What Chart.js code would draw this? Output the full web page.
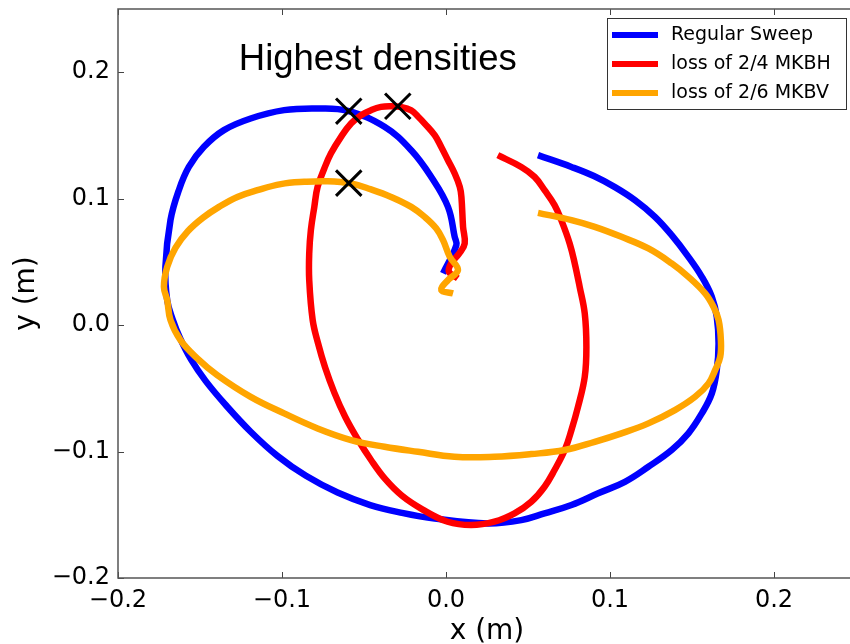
<!DOCTYPE html>
<html>
<head>
<meta charset="utf-8">
<script src="https://cdn.jsdelivr.net/npm/chart.js@4.4.1/dist/chart.umd.min.js"></script>
<style>
  html, body { margin: 0; padding: 0; overflow: hidden; background: #fff; }
  #wrap { width: 860px; height: 644px; }
</style>
</head>
<body>
<div id="wrap"><canvas id="c" width="860" height="644"></canvas></div>
<script>
// ---- data ----
const seriesLabels = ['Regular Sweep', 'loss of 2/4 MKBH', 'loss of 2/6 MKBV'];
const seriesColors = ['#0000ff', '#ff0000', '#ffa500'];

const blueX = [0.0561, 0.0765, 0.0902, 0.1030, 0.1152, 0.1274, 0.1376, 0.1478, 0.1560, 0.1621, 0.1651, 0.1662, 0.1651, 0.1621, 0.1560, 0.1478, 0.1376, 0.1234, 0.1091, 0.0928, 0.0765, 0.0601, 0.0459, 0.0255, -0.0069, -0.0268, -0.0462, -0.0661, -0.0854, -0.1028, -0.1191, -0.1343, -0.1466, -0.1555, -0.1621, -0.1667, -0.1700, -0.1711, -0.1680, -0.1629, -0.1568, -0.1476, -0.1354, -0.1191, -0.0987, -0.0783, -0.0599, -0.0375, -0.0212, -0.0090, 0.0012, 0.0053, 0.0063, -0.0018];
const blueY = [0.1344, 0.1251, 0.1179, 0.1091, 0.0988, 0.0856, 0.0711, 0.0540, 0.0382, 0.0224, 0.0066, -0.0145, -0.0356, -0.0540, -0.0698, -0.0856, -0.0988, -0.1120, -0.1239, -0.1330, -0.1423, -0.1489, -0.1542, -0.1568, -0.1530, -0.1485, -0.1423, -0.1324, -0.1192, -0.1034, -0.0843, -0.0632, -0.0441, -0.0271, -0.0105, 0.0046, 0.0198, 0.0461, 0.0830, 0.1067, 0.1251, 0.1410, 0.1542, 0.1634, 0.1700, 0.1713, 0.1694, 0.1568, 0.1383, 0.1172, 0.0935, 0.0698, 0.0632, 0.0409];

const redX = [0.0316, 0.0459, 0.0540, 0.0601, 0.0662, 0.0703, 0.0754, 0.0785, 0.0815, 0.0846, 0.0856, 0.0846, 0.0805, 0.0765, 0.0724, 0.0662, 0.0601, 0.0520, 0.0418, 0.0295, 0.0153, 0.0010, -0.0142, -0.0268, -0.0370, -0.0457, -0.0538, -0.0615, -0.0681, -0.0737, -0.0780, -0.0813, -0.0834, -0.0834, -0.0824, -0.0803, -0.0783, -0.0742, -0.0702, -0.0640, -0.0579, -0.0518, -0.0457, -0.0396, -0.0335, -0.0273, -0.0212, -0.0171, -0.0130, -0.0069, -0.0029, 0.0012, 0.0053, 0.0084, 0.0094, 0.0104, 0.0114, 0.0081, 0.0031, 0.0018, 0.0072];
const redY = [0.1344, 0.1251, 0.1172, 0.1067, 0.0949, 0.0830, 0.0646, 0.0488, 0.0303, 0.0092, -0.0172, -0.0409, -0.0646, -0.0830, -0.0988, -0.1146, -0.1278, -0.1397, -0.1489, -0.1555, -0.1581, -0.1555, -0.1459, -0.1350, -0.1219, -0.1067, -0.0903, -0.0725, -0.0534, -0.0336, -0.0145, 0.0040, 0.0356, 0.0567, 0.0751, 0.0935, 0.1093, 0.1239, 0.1357, 0.1489, 0.1594, 0.1660, 0.1700, 0.1726, 0.1731, 0.1724, 0.1698, 0.1650, 0.1594, 0.1502, 0.1409, 0.1304, 0.1199, 0.1093, 0.1014, 0.0777, 0.0646, 0.0567, 0.0488, 0.0421, 0.0369];

const orangeX = [0.0561, 0.0765, 0.0907, 0.1070, 0.1234, 0.1376, 0.1478, 0.1580, 0.1631, 0.1662, 0.1676, 0.1672, 0.1641, 0.1601, 0.1519, 0.1396, 0.1234, 0.1070, 0.0907, 0.0724, 0.0520, 0.0295, 0.0051, -0.0171, -0.0375, -0.0579, -0.0783, -0.0987, -0.1191, -0.1395, -0.1517, -0.1619, -0.1680, -0.1700, -0.1720, -0.1700, -0.1649, -0.1573, -0.1481, -0.1384, -0.1272, -0.1150, -0.1007, -0.0864, -0.0722, -0.0579, -0.0457, -0.0335, -0.0212, -0.0130, -0.0059, -0.0018, 0.0023, 0.0073, 0.0012, -0.0029, 0.0043];
const orangeY = [0.0888, 0.0830, 0.0777, 0.0698, 0.0606, 0.0488, 0.0382, 0.0251, 0.0145, 0.0040, -0.0119, -0.0251, -0.0356, -0.0461, -0.0567, -0.0672, -0.0777, -0.0856, -0.0923, -0.0988, -0.1020, -0.1041, -0.1041, -0.1002, -0.0962, -0.0909, -0.0817, -0.0698, -0.0567, -0.0395, -0.0263, -0.0119, 0.0040, 0.0198, 0.0303, 0.0461, 0.0613, 0.0744, 0.0850, 0.0935, 0.1014, 0.1067, 0.1115, 0.1133, 0.1138, 0.1120, 0.1073, 0.1014, 0.0935, 0.0856, 0.0764, 0.0672, 0.0540, 0.0435, 0.0356, 0.0277, 0.0251];

// "Highest densities" markers
const markX = [-0.0593, -0.0294, -0.0593];
const markY = [0.1692, 0.1731, 0.1123];

const xTicks = [-0.2, -0.1, 0.0, 0.1, 0.2];
const yTicks = [-0.2, -0.1, 0.0, 0.1, 0.2];
const xRange = [-0.2, 0.25];
const yRange = [-0.2, 0.25];
const annotText = 'Highest densities';
const annotX = -0.0416, annotY = 0.208;
const xTitle = 'x (m)', yTitle = 'y (m)';

// ---- build ----
const zip = (xs, ys) => xs.map((x, i) => ({x, y: ys[i]}));
const fmt = v => (v < -1e-9 ? '\u2212' : '') + Math.abs(v).toFixed(1);
const TICKFONT = {family: 'DejaVu Sans', size: 24};
const noPad = s => { s.paddingTop = 0; s.paddingBottom = 0; s.paddingLeft = 0; s.paddingRight = 0; };

const frame = {
  id: 'frame',
  afterDraw(chart) {
    const {ctx, chartArea: a, scales} = chart;
    ctx.save();
    // inward ticks
    ctx.strokeStyle = '#444';
    ctx.lineWidth = 1;
    const L = 6;
    ctx.beginPath();
    xTicks.forEach(v => {
      const p = Math.round(scales.x.getPixelForValue(v)) + 0.5;
      ctx.moveTo(p, a.bottom); ctx.lineTo(p, a.bottom - L);
      ctx.moveTo(p, a.top); ctx.lineTo(p, a.top + L);
    });
    yTicks.forEach(v => {
      const p = Math.round(scales.y.getPixelForValue(v)) + 0.5;
      ctx.moveTo(a.left, p); ctx.lineTo(a.left + L, p);
      ctx.moveTo(a.right, p); ctx.lineTo(a.right - L, p);
    });
    ctx.stroke();
    // spines
    ctx.strokeStyle = '#555';
    ctx.lineWidth = 1.5;
    ctx.strokeRect(a.left, a.top, a.right - a.left, a.bottom - a.top);

    // annotation text
    ctx.fillStyle = '#000';
    ctx.font = '36.5px "Liberation Sans", Arial, sans-serif';
    ctx.textAlign = 'center';
    ctx.textBaseline = 'alphabetic';
    ctx.fillText(annotText, scales.x.getPixelForValue(annotX), scales.y.getPixelForValue(annotY) + 8);

    // legend box
    const items = chart.data.datasets.filter(d => d.label);
    const boxR = a.right - 10, boxT = a.top + 9, boxW = 239, rowH = 29;
    const boxL = boxR - boxW, boxH = rowH * items.length + 4;
    ctx.fillStyle = '#fff';
    ctx.fillRect(boxL, boxT, boxW, boxH);
    ctx.strokeStyle = '#333';
    ctx.lineWidth = 1;
    ctx.strokeRect(boxL + 0.5, boxT + 0.5, boxW, boxH);
    ctx.font = '19px "DejaVu Sans"';
    ctx.textAlign = 'left';
    ctx.textBaseline = 'middle';
    items.forEach((d, i) => {
      const yy = boxT + 17 + i * rowH;
      ctx.strokeStyle = d.borderColor;
      ctx.lineWidth = 6;
      ctx.beginPath();
      ctx.moveTo(boxL + 5, yy); ctx.lineTo(boxL + 51, yy);
      ctx.stroke();
      ctx.fillStyle = '#000';
      ctx.fillText(d.label, boxL + 64, yy);
    });
    ctx.restore();
  }
};

const lineDs = (i, xs, ys, order) => ({
  label: seriesLabels[i],
  data: zip(xs, ys),
  showLine: true,
  borderColor: seriesColors[i],
  backgroundColor: seriesColors[i],
  borderWidth: 6.5,
  borderJoinStyle: 'round',
  pointRadius: 0,
  tension: 0.4,
  fill: false,
  order
});

new Chart(document.getElementById('c'), {
  type: 'scatter',
  data: {
    datasets: [
      lineDs(0, blueX, blueY, 3),
      lineDs(1, redX, redY, 2),
      lineDs(2, orangeX, orangeY, 1),
      {
        data: zip(markX, markY),
        pointStyle: 'crossRot',
        pointRadius: 18,
        borderWidth: 3,
        borderColor: '#000',
        backgroundColor: '#000',
        showLine: false,
        order: 0
      }
    ]
  },
  options: {
    responsive: false,
    animation: false,
    layout: {autoPadding: false, padding: {left: 0, top: 9, right: 4, bottom: 0}},
    plugins: {legend: {display: false}, tooltip: {enabled: false}},
    scales: {
      x: {
        type: 'linear', min: xRange[0], max: xRange[1],
        afterBuildTicks: s => { s.ticks = xTicks.map(v => ({value: v})); },
        afterFit: s => { s.height = 66; noPad(s); },
        grid: {display: false, drawTicks: false},
        border: {display: false},
        ticks: {font: TICKFONT, color: '#000', padding: 8, maxRotation: 0, autoSkip: false, callback: v => fmt(v)},
        title: {display: true, text: xTitle, color: '#000', font: {family: 'DejaVu Sans', size: 28, lineHeight: 0.85}, padding: {top: 0, bottom: 0}}
      },
      y: {
        type: 'linear', min: yRange[0], max: yRange[1],
        afterBuildTicks: s => { s.ticks = yTicks.map(v => ({value: v})); },
        afterFit: s => { s.width = 118; noPad(s); },
        grid: {display: false, drawTicks: false},
        border: {display: false},
        ticks: {font: TICKFONT, color: '#000', padding: 8, autoSkip: false, callback: v => fmt(v)},
        title: {display: true, text: yTitle, color: '#000', font: {family: 'DejaVu Sans', size: 28, lineHeight: 1}, padding: {top: 13, bottom: 0}}
      }
    }
  },
  plugins: [frame]
});
</script>
</body>
</html>
